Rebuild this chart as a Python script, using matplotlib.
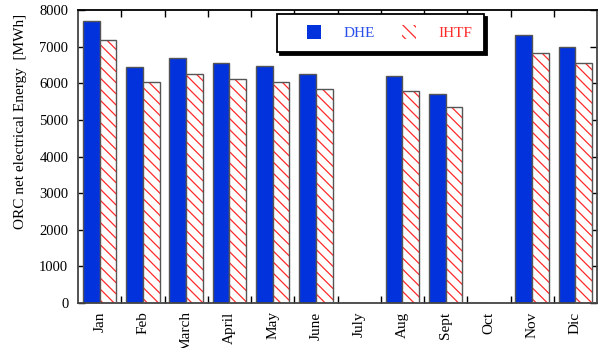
import numpy as np
import matplotlib as mpl
mpl.use('Agg')
import matplotlib.pyplot as plt
from matplotlib.patches import Patch, Rectangle
from matplotlib.legend_handler import HandlerPatch

plt.rcParams['font.family'] = ['Liberation Serif', 'DejaVu Serif']
plt.rcParams['hatch.linewidth'] = 0.9

months = ['Jan', 'Feb', 'March', 'April', 'May', 'June', 'July',
          'Aug', 'Sept', 'Oct', 'Nov', 'Dic']
dhe = [7700, 6450, 6680, 6550, 6480, 6260, 0, 6190, 5700, 0, 7310, 7000]
ihtf = [7170, 6030, 6250, 6120, 6045, 5835, 0, 5790, 5345, 0, 6815, 6545]

blue = '#0232dc'
red = '#ff2a2a'
edge = '#555555'
hatch = '\\' * 3

fig = plt.figure(figsize=(6, 3.48), dpi=100)
ax = fig.add_axes([0.13, 0.129, 0.865, 0.842])

x = np.arange(len(months))
w = 0.39
ax.bar(x - w / 2, dhe, w, color=blue, edgecolor=edge, linewidth=1.0, zorder=2)
# hatch first (red lines, no outline), then the grey outline on top
ax.bar(x + w / 2, ihtf, w, color='white', edgecolor=red, hatch=hatch,
       linewidth=0, zorder=2)
ax.bar(x + w / 2, ihtf, w, color='none', edgecolor=edge, linewidth=1.0, zorder=3)

ax.set_xlim(-0.5, len(months) - 0.5)
ax.set_ylim(0, 8000)
ax.set_yticks(np.arange(0, 8001, 1000))
ax.set_xticks(x)
ax.set_xticklabels(months, rotation=90, fontsize=11)
ax.set_xticks(np.arange(0.5, len(months) - 1, 1), minor=True)
ax.tick_params(axis='x', which='major', length=0, pad=6)
ax.tick_params(axis='x', which='minor', direction='in', length=5,
               top=True, bottom=True, width=1.0)
ax.tick_params(axis='y', direction='in', length=5, right=True, labelsize=10.5,
               pad=7, width=1.0)
ax.set_ylabel('ORC net electrical Energy  [MWh]', fontsize=11)
ax.yaxis.set_label_coords(-0.098, 0.62)

for side in ['left', 'bottom', 'right']:
    ax.spines[side].set_color('#444444')
    ax.spines[side].set_linewidth(1.3)
ax.spines['top'].set_color('black')
ax.spines['top'].set_linewidth(1.3)


def small_box(legend, orig_handle, xdescent, ydescent, width, height, fontsize):
    s = 0.9 * fontsize
    return Rectangle((width - s - xdescent, height / 2 - s / 2 - ydescent), s, s)


handles = [Patch(facecolor=blue, edgecolor='none', linewidth=0),
           Patch(facecolor='white', edgecolor=red, hatch=hatch, linewidth=0)]
leg = ax.legend(handles, ['DHE', 'IHTF'], ncol=2, loc='upper left',
                bbox_to_anchor=(0.383, 0.986), borderaxespad=0,
                fontsize=11, handlelength=2.1, handletextpad=1.45,
                columnspacing=0.6, borderpad=0.8, fancybox=False,
                shadow={'color': 'black', 'alpha': 1.0},
                handler_map={Patch: HandlerPatch(patch_func=small_box)})
leg.get_frame().set_edgecolor('black')
leg.get_frame().set_linewidth(1.3)
leg.get_texts()[0].set_color('#2a4ee8')
leg.get_texts()[1].set_color(red)
leg.set_zorder(5)

plt.savefig('out.png', dpi=100)
plt.close()
